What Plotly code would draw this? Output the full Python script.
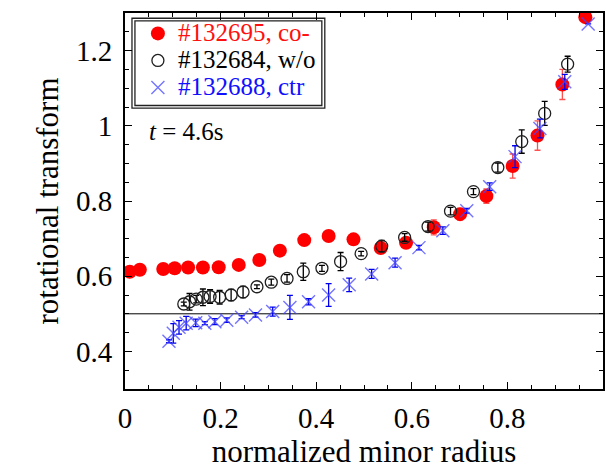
import plotly.graph_objects as go

# co- (#132695)
co_x = [0.010, 0.031, 0.080, 0.104, 0.132, 0.163, 0.196, 0.238, 0.281, 0.324, 0.375, 0.426,
        0.478, 0.535, 0.588, 0.646, 0.701, 0.756, 0.811, 0.863, 0.915, 0.963]
co_y = [0.612, 0.617, 0.619, 0.621, 0.623, 0.623, 0.624, 0.630, 0.643, 0.668, 0.696, 0.707,
        0.698, 0.675, 0.689, 0.730, 0.765, 0.813, 0.893, 0.974, 1.110, 1.289]
co_err = [0, 0, 0, 0, 0, 0, 0, 0, 0, 0, 0.004, 0.012,
          0.006, 0.012, 0.008, 0.020, 0.015, 0.019, 0.032, 0.039, 0.040, 0]

# w/o (#132684)
wo_x = [0.123, 0.135, 0.149, 0.163, 0.178, 0.198, 0.222, 0.247, 0.276, 0.306, 0.339, 0.373,
        0.412, 0.451, 0.494, 0.537, 0.585, 0.634, 0.681, 0.729, 0.780, 0.830, 0.878, 0.926]
wo_y = [0.526, 0.532, 0.539, 0.544, 0.546, 0.544, 0.550, 0.558, 0.572, 0.584, 0.594, 0.612,
        0.621, 0.639, 0.660, 0.680, 0.703, 0.732, 0.773, 0.825, 0.889, 0.958, 1.033, 1.164]
wo_err = [0.005, 0.022, 0.010, 0.022, 0.018, 0.018, 0.015, 0.015, 0.005, 0.008, 0.010, 0.023,
          0.008, 0.024, 0.006, 0.015, 0.010, 0.012, 0.010, 0.008, 0.012, 0.031, 0.032, 0.021]

# ctr (#132688)
ctr_x = [0.092, 0.101, 0.113, 0.128, 0.148, 0.167, 0.188, 0.213, 0.244, 0.273, 0.309, 0.345,
         0.384, 0.426, 0.469, 0.516, 0.565, 0.615, 0.665, 0.715, 0.763, 0.816, 0.868, 0.920, 0.969]
ctr_y = [0.427, 0.448, 0.464, 0.475, 0.476, 0.475, 0.479, 0.483, 0.491, 0.497, 0.506, 0.517,
         0.532, 0.550, 0.577, 0.606, 0.636, 0.676, 0.721, 0.774, 0.838, 0.918, 0.993, 1.117, 1.271]
ctr_err = [0.004, 0.026, 0.018, 0.018, 0.010, 0.004, 0.008, 0.006, 0.004, 0.006, 0.012, 0.032,
           0.008, 0.030, 0.018, 0.012, 0.012, 0.006, 0.010, 0.006, 0.010, 0.029, 0.025, 0.020, 0]

FONT = "Liberation Serif, Times New Roman, Times, serif"


def legend_name(text, color):
    return f'<span style="color:{color};font-size:25px">{text}</span>'


fig = go.Figure()
fig.add_trace(go.Scatter(
    x=co_x, y=co_y, mode="markers",
    name=legend_name("#132695, co-", "#ff1010"),
    marker=dict(symbol="circle", size=14, color="#ff0000", line=dict(width=0)),
    error_y=dict(type="data", array=co_err, color="#ff5050", thickness=1.3, width=3),
))
fig.add_trace(go.Scatter(
    x=wo_x, y=wo_y, mode="markers",
    name=legend_name("#132684, w/o", "#000000"),
    marker=dict(symbol="circle-open", size=12, color="#202020", line=dict(width=1.3)),
    error_y=dict(type="data", array=wo_err, color="#000000", thickness=1.3, width=3),
))
fig.add_trace(go.Scatter(
    x=ctr_x, y=ctr_y, mode="markers",
    name=legend_name("#132688, ctr", "#1010ff"),
    marker=dict(symbol="x-thin", size=13, color="rgba(70,70,255,0.75)",
                line=dict(width=1.4, color="rgba(70,70,255,0.75)")),
    error_y=dict(type="data", array=ctr_err, color="#0000ee", thickness=1.3, width=3),
))

# reference line
fig.add_shape(type="line", xref="x", yref="y", x0=0, x1=1, y0=0.5, y1=0.5,
              line=dict(color="black", width=1), layer="below")

# double legend frame
fig.add_shape(type="rect", xref="paper", yref="paper",
              x0=0.0146, x1=0.418, y0=0.747, y1=0.986,
              line=dict(color="#222222", width=1.3), fillcolor="white", layer="below")
fig.add_shape(type="rect", xref="paper", yref="paper",
              x0=0.0208, x1=0.4118, y0=0.754, y1=0.979,
              line=dict(color="#222222", width=1.3), fillcolor="rgba(0,0,0,0)", layer="below")

fig.add_annotation(text="<i>t</i> = 4.6s", xref="paper", yref="paper",
                   x=0.045, y=0.685, xanchor="left", yanchor="middle", showarrow=False,
                   font=dict(family=FONT, size=25, color="black"))

axis_common = dict(
    showgrid=False, zeroline=False, showline=True, linecolor="black", linewidth=2,
    mirror="ticks", ticks="inside", ticklen=7, tickwidth=1.3, tickcolor="black",
    tickfont=dict(family=FONT, size=29, color="black"),
)

fig.update_xaxes(range=[0, 1], tickvals=[0, 0.2, 0.4, 0.6, 0.8, 1],
                 ticktext=["0", "0.2", "0.4", "0.6", "0.8", "1"],
                 ticklabelstandoff=2,
                 minor=dict(dtick=0.05, ticks="inside", ticklen=4, tickcolor="black", tickwidth=1),
                 title=dict(text="normalized minor radius", font=dict(family=FONT, size=31, color="black"),
                            standoff=6),
                 **axis_common)
fig.update_yaxes(range=[0.3, 1.3], tickvals=[0.4, 0.6, 0.8, 1.0, 1.2],
                 ticktext=["0.4", "0.6", "0.8", "1", "1.2"],
                 ticklabelstandoff=5,
                 minor=dict(dtick=0.05, ticks="inside", ticklen=4, tickcolor="black", tickwidth=1),
                 title=dict(text="rotational transform", font=dict(family=FONT, size=31, color="black"),
                            standoff=8),
                 **axis_common)

fig.update_layout(
    width=610, height=470,
    margin=dict(l=125, r=5, t=13, b=81),
    paper_bgcolor="white", plot_bgcolor="white",
    font=dict(family=FONT, color="black"),
    legend=dict(x=0.027, y=0.995, xanchor="left", yanchor="top",
                bgcolor="rgba(0,0,0,0)", borderwidth=0,
                font=dict(family=FONT, size=18.5), tracegroupgap=0, itemwidth=30),
)

fig.write_html("out.html")
